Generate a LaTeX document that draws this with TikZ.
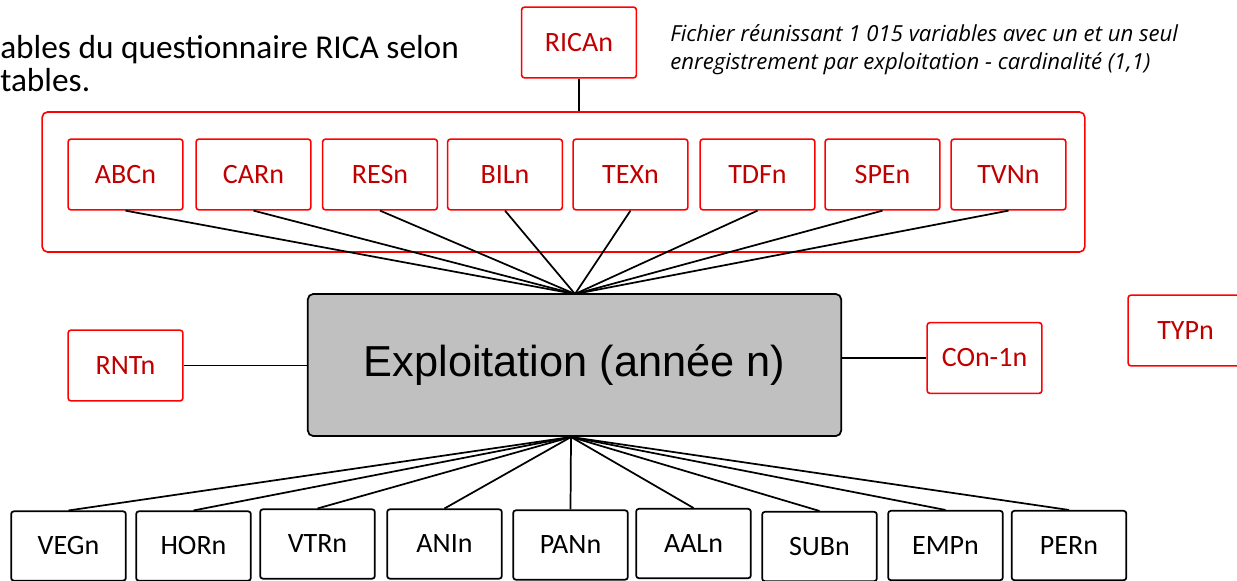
\documentclass[tikz,border=0pt]{standalone}
\usepackage{fontspec}
\setmainfont{Carlito}
\newfontfamily\arialf{Liberation Sans}
\newfontfamily\italf{Open Sans}
\definecolor{boxred}{HTML}{FF0000}
\definecolor{txtred}{HTML}{C00000}
\definecolor{boxgray}{HTML}{C0C0C0}
\begin{document}
\begin{tikzpicture}[x=0.75pt,y=-0.75pt,
  redbox/.style={draw=boxred,text=txtred,line width=1.2pt,rounded corners=2pt,
    minimum width=86pt,minimum height=53pt,inner sep=0pt,
    font=\fontsize{21}{24}\selectfont},
  blackbox/.style={draw=black,line width=1.3pt,rounded corners=2pt,
    minimum width=86pt,minimum height=52pt,inner sep=0pt,
    font=\fontsize{21}{24}\selectfont},
  link/.style={draw=black,line width=1.3pt}]
\useasboundingbox (0,0) rectangle (1237,581);
\clip (0,0) rectangle (1237,581);
% heading text (cut off)
\node[anchor=base west,inner sep=0pt,font=\fontsize{25}{28}\selectfont] (head1) at (0,59) {ables du questionnaire RICA selon};
\node[anchor=base west,inner sep=0pt,font=\fontsize{25}{28}\selectfont] (head2) at (0,92) {tables.};
% note
\node[anchor=base west,inner sep=0pt,font=\italf\itshape\fontsize{16.6}{19}\selectfont] (note1) at (670,42) {Fichier réunissant 1 015 variables avec un et un seul};
\node[anchor=base west,inner sep=0pt,font=\italf\itshape\fontsize{16.6}{19}\selectfont] (note2) at (670,70) {enregistrement par exploitation - cardinalité (1,1)};
% container
\node[draw=boxred,line width=1.2pt,rounded corners=4pt,minimum width=782pt,minimum height=105pt,inner sep=0pt] (cont) at (563.5,182) {};
\node[redbox] (rica) at (579,42.5) {RICAn};
\draw[link] (rica.south) -- (rica.south |- cont.north);
% top boxes
\node[redbox] (abc) at (125.5,174.5) {ABCn};
\node[redbox] (car) at (253.5,174.5) {CARn};
\node[redbox] (res) at (380,174.5) {RESn};
\node[redbox] (bil) at (505,174.5) {BILn};
\node[redbox] (tex) at (630.5,174.5) {TEXn};
\node[redbox] (tdf) at (757.5,174.5) {TDFn};
\node[redbox] (spe) at (882.5,174.5) {SPEn};
\node[redbox] (tvn) at (1008.5,174.5) {TVNn};
% central box
\node[draw=black,fill=boxgray,line width=1.3pt,rounded corners=4pt,minimum width=400pt,minimum height=106.5pt,inner sep=0pt,font=\arialf\fontsize{32.5}{36}\selectfont] (expl) at (574.5,365) {Exploitation (année n)};
\coordinate (ctop) at (575,294);
\coordinate (cbot) at (571,437);
\foreach \n in {abc,car,res,bil,tex,tdf,spe,tvn}{\draw[link] (\n.south) -- (ctop);}
% side boxes
\node[redbox] (rnt) at (125.5,365.5) {RNTn};
\node[redbox] (con) at (984.5,358) {COn-1n};
\node[redbox] (typ) at (1185.5,330.5) {TYPn};
\draw[link] (rnt.east) -- (rnt.east -| expl.west);
\draw[link] (con.west) -- (con.west -| expl.east);
% bottom boxes
\node[blackbox] (veg) at (68.5,546) {VEGn};
\node[blackbox] (hor) at (193.5,546) {HORn};
\node[blackbox] (vtr) at (317.5,544) {VTRn};
\node[blackbox] (ani) at (444.5,544) {ANIn};
\node[blackbox] (pan) at (570.5,545) {PANn};
\node[blackbox] (aal) at (693.5,543.5) {AALn};
\node[blackbox] (sub) at (819.5,546.5) {SUBn};
\node[blackbox] (emp) at (945.5,545.5) {EMPn};
\node[blackbox] (per) at (1069,545.5) {PERn};
\foreach \n in {veg,hor,vtr,ani,pan,aal,sub,emp,per}{\draw[link] (cbot) -- (\n.north);}
\end{tikzpicture}
\end{document}
